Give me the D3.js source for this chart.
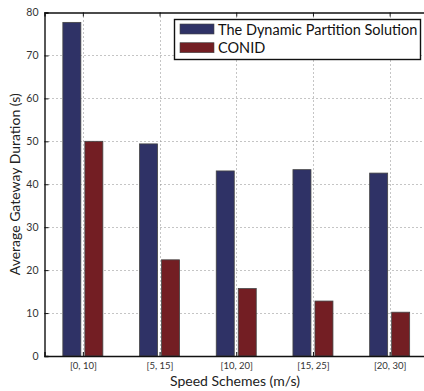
<!DOCTYPE html>
<html>
<head>
<meta charset="utf-8">
<script src="https://cdn.jsdelivr.net/npm/d3@7"></script>
<style>
  html, body { margin: 0; padding: 0; background: #fff; }
  svg { display: block; font-family: Lato, "Open Sans", sans-serif; }
</style>
</head>
<body>
<svg id="chart" width="424" height="391"></svg>
<script>
// Speed schemes on the x axis
const categories = ["[0, 10]", "[5, 15]", "[10, 20]", "[15, 25]", "[20, 30]"];
// Average gateway duration (s) per scheme
const dynamicPartition = [77.7, 49.4, 43.1, 43.4, 42.6];
const conid = [50.0, 22.4, 15.7, 12.8, 10.2];
const seriesNames = ["The Dynamic Partition Solution", "CONID"];
const seriesColors = ["#2f3266", "#731e23"];
const yTicks = [0, 10, 20, 30, 40, 50, 60, 70, 80];

const svg = d3.select("#chart");
const margin = { left: 44.5, top: 12.5, right: 428, bottom: 356 };

// Positions along x: categories sit at 1..5, axis spans 0.5..5.5
const x = d3.scaleLinear().domain([0.5, 5.5]).range([margin.left, margin.right]);
const y = d3.scaleLinear().domain([0, 80]).range([margin.bottom, margin.top]);

const barW = 18;
const offsets = [-11, 11];

// Dotted grid
const grid = svg.append("g").attr("stroke", "#8a8a8a").attr("stroke-width", 1)
  .attr("stroke-dasharray", "1,3");
grid.selectAll("line.h").data(yTicks.slice(1, -1)).enter().append("line")
  .attr("x1", margin.left).attr("x2", margin.right)
  .attr("y1", d => Math.round(y(d)) + 0.5).attr("y2", d => Math.round(y(d)) + 0.5);
grid.selectAll("line.v").data(categories).enter().append("line")
  .attr("x1", (d, i) => Math.round(x(i + 1)) + 0.5).attr("x2", (d, i) => Math.round(x(i + 1)) + 0.5)
  .attr("y1", margin.top).attr("y2", margin.bottom);

// Bars
const data = [dynamicPartition, conid];
data.forEach((vals, s) => {
  svg.append("g").selectAll("rect").data(vals).enter().append("rect")
    .attr("x", (d, i) => x(i + 1) + offsets[s] - barW / 2)
    .attr("y", d => y(d))
    .attr("width", barW)
    .attr("height", d => y(0) - y(d))
    .attr("fill", seriesColors[s])
    .attr("stroke", "#444")
    .attr("stroke-width", 0.8);
});

// Axes
const yAxis = d3.axisLeft(y).tickValues(yTicks).tickSize(-4).tickPadding(6);
const gy = svg.append("g").attr("transform", `translate(${margin.left},0)`).call(yAxis);
const xAxis = d3.axisBottom(x).tickValues(d3.range(1, categories.length + 1))
  .tickFormat(d => categories[d - 1]).tickSize(-4).tickPadding(6);
const gx = svg.append("g").attr("transform", `translate(0,${margin.bottom})`).call(xAxis);
const xTop = d3.axisTop(x).tickValues(d3.range(1, categories.length + 1))
  .tickFormat("").tickSize(-4);
const gt = svg.append("g").attr("transform", `translate(0,${margin.top})`).call(xTop);

[gy, gx, gt].forEach(g => {
  g.attr("font-family", null);
  g.select(".domain").attr("stroke", "#111").attr("stroke-width", 1.4);
  g.selectAll(".tick line").attr("stroke", "#111");
  g.selectAll(".tick text").attr("fill", "#333").style("font-size", "10.5px");
});
gx.selectAll(".tick text").style("font-size", "9.5px");

// Axis titles
svg.append("text")
  .attr("transform", `translate(20,${(margin.top + margin.bottom) / 2}) rotate(-90)`)
  .attr("text-anchor", "middle")
  .attr("fill", "#222")
  .style("font-size", "14px")
  .text("Average Gateway Duration (s)");
svg.append("text")
  .attr("x", 235).attr("y", 386)
  .attr("text-anchor", "middle")
  .attr("fill", "#222")
  .style("font-size", "14px")
  .text("Speed Schemes (m/s)");

// Legend
const lg = svg.append("g");
lg.append("rect").attr("x", 174.5).attr("y", 19.5).attr("width", 246).attr("height", 40)
  .attr("fill", "#fff").attr("stroke", "#111").attr("stroke-width", 1.4);
seriesNames.forEach((name, i) => {
  const yy = 24 + i * 18.7;
  lg.append("rect").attr("x", 180).attr("y", yy).attr("width", 34).attr("height", 10)
    .attr("fill", seriesColors[i]).attr("stroke", "#444").attr("stroke-width", 0.6);
  lg.append("text").attr("x", 218).attr("y", yy + 10.5)
    .attr("fill", "#111").style("font-size", "14.5px").text(name);
});
</script>
</body>
</html>
